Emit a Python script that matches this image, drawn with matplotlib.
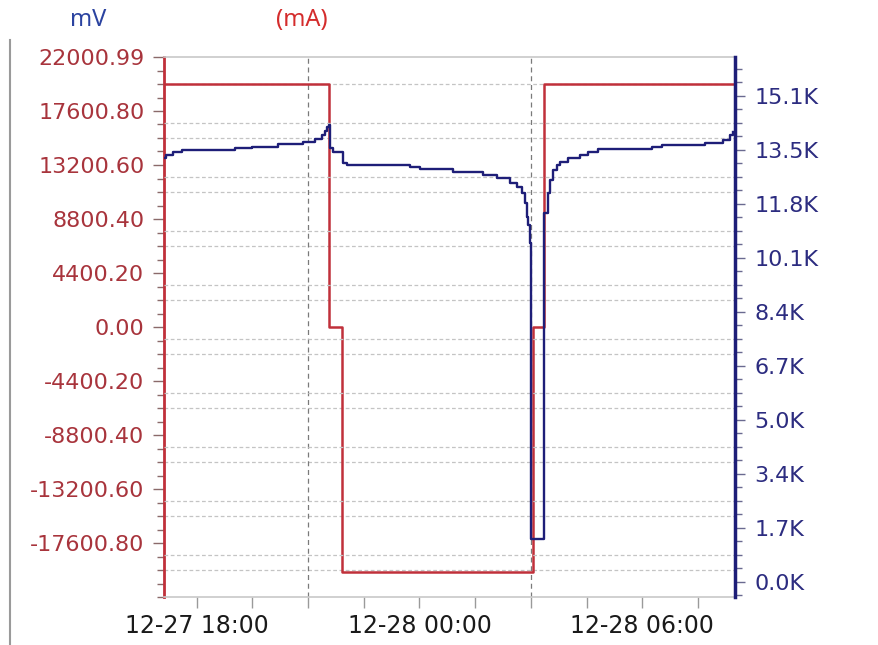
import matplotlib
matplotlib.use('Agg')
import matplotlib.pyplot as plt
import matplotlib.dates as mdates
import matplotlib.ticker as mticker
import pandas as pd
from matplotlib.lines import Line2D

YEAR = "2023-"

# Current (mA), left axis
current_times = ["12-27 17:07", "12-27 21:34", "12-27 21:55", "12-28 03:04", "12-28 03:21", "12-28 08:30"]
current_mA = [19800, 0, -20000, 0, 19800, 19800]

# Voltage (mV), right axis
voltage_times = ["12-27 17:07", "12-27 17:11", "12-27 17:21", "12-27 17:36", "12-27 19:01", "12-27 19:29",
                 "12-27 20:11", "12-27 20:51", "12-27 21:11", "12-27 21:22", "12-27 21:27", "12-27 21:30",
                 "12-27 21:33", "12-27 21:35", "12-27 21:40", "12-27 21:51", "12-27 21:56", "12-27 22:03",
                 "12-27 23:40", "12-27 23:45", "12-28 00:01", "12-28 00:54", "12-28 01:27", "12-28 01:43",
                 "12-28 02:05", "12-28 02:26", "12-28 02:38", "12-28 02:46", "12-28 02:51", "12-28 02:54",
                 "12-28 02:56", "12-28 02:59", "12-28 03:00", "12-28 03:20", "12-28 03:21", "12-28 03:27",
                 "12-28 03:31", "12-28 03:36", "12-28 03:42", "12-28 03:47", "12-28 04:00", "12-28 04:20",
                 "12-28 04:33", "12-28 04:49", "12-28 06:16", "12-28 06:32", "12-28 07:42", "12-28 08:11",
                 "12-28 08:22", "12-28 08:27"]
voltage_mV = [13215, 13308, 13402, 13464, 13526, 13558,
              13651, 13714, 13807, 13932, 14056, 14181,
              14240, 13526, 13402, 13402, 13059, 12997,
              12997, 12934, 12872, 12778, 12778, 12685,
              12591, 12436, 12311, 12124, 11812, 11376,
              11127, 10566, 1340, 1340, 11501, 12124,
              12529, 12841, 12997, 13090, 13215, 13308,
              13402, 13495, 13558, 13620, 13682, 13776,
              13932, 14025]

left_ticks = [22000.99, 17600.80, 13200.60, 8800.40, 4400.20, 0.00, -4400.20, -8800.40, -13200.60, -17600.80]
left_tick_labels = ["22000.99", "17600.80", "13200.60", "8800.40", "4400.20", "0.00",
                    "-4400.20", "-8800.40", "-13200.60", "-17600.80"]
right_ticks = [0, 1683, 3366, 5049, 6732, 8415, 10098, 11781, 13464, 15147]
right_tick_labels = ["0.0K", "1.7K", "3.4K", "5.0K", "6.7K", "8.4K", "10.1K", "11.8K", "13.5K", "15.1K"]
x_tick_times = ["12-27 18:00", "12-28 00:00", "12-28 06:00"]
x_tick_labels = ["12-27 18:00", "12-28 00:00", "12-28 06:00"]
x_grid_times = ["12-27 21:00", "12-28 03:00"]

def to_dt(lst):
    return pd.to_datetime([YEAR + t for t in lst], format="%Y-%m-%d %H:%M")

ct = to_dt(current_times)
vt = to_dt(voltage_times)
xt = to_dt(x_tick_times)
xg = to_dt(x_grid_times)
xmin = pd.Timestamp(YEAR + "12-27 17:07")
xmax = pd.Timestamp(YEAR + "12-28 08:30")

RED = '#c0303a'
RED_TXT = '#a8343c'
NAVY = '#1e1e78'
NAVY_TXT = '#2c2c80'
GRID = '#c4c4c4'

fig = plt.figure(figsize=(8.79, 6.45), dpi=100)
ax = fig.add_axes([164/879, 1-597/645, (735-164)/879, (597-57)/645])
ax2 = ax.twinx()

L = 22000.99
ax.set_ylim(-L, L)
ax2.set_ylim(-467.5, 16362)
ax.set_xlim(xmin, xmax)

# gridlines (midpoints between ticks of both axes)
step_l = L / 5
for k in [-4.5, -3.5, -2.5, -1.5, -0.5, 0.5, 1.5, 2.5, 3.5, 4.5]:
    ax.axhline(k * step_l, color=GRID, lw=0.9, ls=(0, (3, 2)), zorder=0.5)
for k in range(9):
    ax2.axhline((k + 0.5) * 1683, color=GRID, lw=0.9, ls=(0, (3, 2)), zorder=0.5)
for d in xg:
    ax.axvline(d, color='#7a7a7a', lw=0.9, ls=(0, (4, 3)), zorder=0.6)

ax.step(ct, current_mA, where='post', color=RED, lw=1.8, zorder=2)
ax2.plot(vt, voltage_mV, drawstyle='steps-post', color=NAVY, lw=1.7, zorder=2)

# spines
for s in ['top', 'bottom']:
    ax.spines[s].set_color('#c8c8c8')
    ax.spines[s].set_linewidth(1.2)
ax.spines['left'].set_color(RED)
ax.spines['left'].set_linewidth(2)
ax.spines['right'].set_visible(False)
ax2.spines['right'].set_color(NAVY)
ax2.spines['right'].set_linewidth(2.5)
for s in ['left', 'top', 'bottom']:
    ax2.spines[s].set_visible(False)

# left ticks
ax.set_yticks(left_ticks)
ax.set_yticklabels(left_tick_labels)
ax.yaxis.set_minor_locator(mticker.FixedLocator([-L + i * step_l / 4 for i in range(41)]))
ax.tick_params(axis='y', which='major', length=8, width=1, color='#8a6a6a', pad=6,
               labelsize=16, labelcolor=RED_TXT)
ax.tick_params(axis='y', which='minor', length=5, width=1, color='#8a6a6a')

# right ticks
ax2.set_yticks(right_ticks)
ax2.set_yticklabels(right_tick_labels)
ax2.yaxis.set_minor_locator(mticker.FixedLocator([-420.75 + i * 420.75 for i in range(41)]))
ax2.tick_params(axis='y', which='major', length=7, width=1, color='#6a6a90', pad=7,
                labelsize=16, labelcolor=NAVY_TXT)
ax2.tick_params(axis='y', which='minor', length=5, width=1, color='#6a6a90')

# x ticks
ax.set_xticks(xt)
ax.set_xticklabels(x_tick_labels)
minor_x = pd.date_range(YEAR + "12-27 19:30", YEAR + "12-28 08:00", freq='90min')
ax.xaxis.set_minor_locator(mticker.FixedLocator(mdates.date2num(minor_x)))
ax.tick_params(axis='x', which='both', length=8, width=1, color='#9a9a9a', pad=4,
               labelsize=17, labelcolor='#1a1a1a')

# axis unit labels
fig.text(88/879, 1-20/645, 'mV', color='#2b43a0', fontsize=17, ha='center', va='center',
         family=['Noto Sans', 'DejaVu Sans'])
fig.text(302/879, 1-20/645, '(mA)', color='#d42c2c', fontsize=17, ha='center', va='center',
         family=['Noto Sans', 'DejaVu Sans'])

# window border
fig.add_artist(Line2D([10/879, 10/879], [0, 1-40/645], color='#9a9a9a', lw=1.5,
                      transform=fig.transFigure))

fig.savefig('out.png', dpi=100)
